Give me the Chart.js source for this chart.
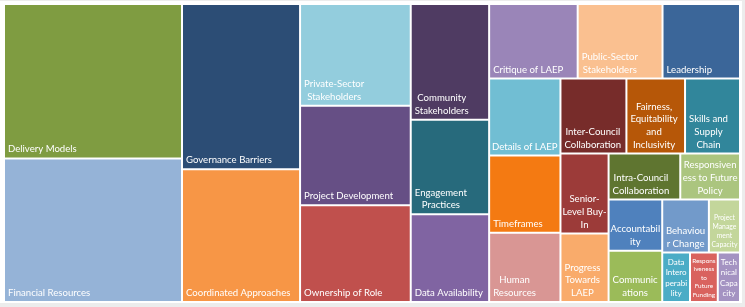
<!DOCTYPE html>
<html>
<head>
<meta charset="utf-8">
<script src="https://cdn.jsdelivr.net/npm/chart.js@4.4.1/dist/chart.umd.min.js"></script>
<style>
html,body{margin:0;padding:0;background:#ffffff;}
canvas{display:block;}
</style>
</head>
<body>
<canvas id="c" width="745" height="307"></canvas>
<script>
// ---- data ----
const CATEGORIES = [
  "Delivery Models","Financial Resources","Governance Barriers","Coordinated Approaches",
  "Private-Sector Stakeholders","Project Development","Ownership of Role","Community Stakeholders",
  "Engagement Practices","Data Availability","Critique of LAEP","Public-Sector Stakeholders",
  "Leadership","Details of LAEP","Timeframes","Human Resources","Inter-Council Collaboration",
  "Fairness, Equitability and Inclusivity","Skills and Supply Chain","Senior-Level Buy-In",
  "Progress Towards LAEP","Intra-Council Collaboration","Responsiveness to Future Policy",
  "Accountability","Communications","Behaviour Change","Project Management Capacity",
  "Data Interoperability","Responsiveness to Future Funding","Technical Capacity"
];
const VALUES = [100,93,71,57,41,40,39,33,27,25,24,23,21,20,20,18,18,16,15,14,12,12,10,10,10,9,6,5,5,4];
const COLORS = [
  "#7f9c41","#95b3d7","#2c4d75","#f79646","#93cddd","#664f85","#c0504d","#4f3b62",
  "#276a7c","#8064a2","#9a85b8","#fac090","#3b6699","#71bed3","#f47a12","#d99694",
  "#772c2a","#b65708","#31869b","#9c3b39","#f9ab6b","#5f7530","#abc57f","#4f81bd",
  "#9bbb59","#729aca","#c3d69b","#4bacc6","#d9625e","#a493c2"
];

// ---- squarified layout (strip along the shorter side) ----
function lastAspect(row, side) {
  const s = row.reduce((a, b) => a + b, 0);
  const t = s / side;
  const len = row[row.length - 1] / t;
  return Math.max(t / len, len / t);
}
function squarify(values, W, H) {
  const total = values.reduce((a, b) => a + b, 0);
  const areas = values.map(v => v * W * H / total);
  let x = 0, y = 0, w = W, h = H, i = 0;
  const rects = [];
  while (i < areas.length) {
    const vertical = w >= h;
    const side = vertical ? h : w;
    let row = [areas[i]], j = i + 1;
    let prev = lastAspect(row, side);
    while (j < areas.length) {
      const cand = row.concat(areas[j]);
      const a = lastAspect(cand, side);
      if (a > prev) break;
      row = cand; prev = a; j++;
    }
    const thick = row.reduce((a, b) => a + b, 0) / side;
    let off = 0;
    row.forEach(a => {
      const len = a / thick;
      if (vertical) rects.push({x0: x, y0: y + off, x1: x + thick, y1: y + off + len});
      else rects.push({x0: x + off, y0: y, x1: x + off + len, y1: y + thick});
      off += len;
    });
    if (vertical) { x += thick; w -= thick; } else { y += thick; h -= thick; }
    i = j;
  }
  return rects;
}

// ---- label wrapping ----
function tokenize(text) {
  const out = [];
  text.split(' ').forEach((word, wi) => {
    const parts = word.split(/(?<=-)/);
    parts.forEach((p, pi) => out.push({t: p, sep: (pi === 0 && wi > 0) ? ' ' : ''}));
  });
  return out;
}
function wrap(ctx, text, maxW) {
  const toks = tokenize(text);
  const lines = [];
  let cur = '';
  for (const tk of toks) {
    const cand = cur ? cur + tk.sep + tk.t : tk.t;
    if (ctx.measureText(cand).width <= maxW) { cur = cand; continue; }
    if (cur) { lines.push(cur); cur = ''; }
    let rest = tk.t;
    while (rest.length > 1 && ctx.measureText(rest).width > maxW) {
      let n = rest.length - 1;
      while (n > 1 && ctx.measureText(rest.slice(0, n)).width > maxW) n--;
      lines.push(rest.slice(0, n));
      rest = rest.slice(n);
    }
    cur = rest;
  }
  if (cur) lines.push(cur);
  return lines;
}

// ---- custom treemap controller using Chart.js bar elements ----
class TreemapController extends Chart.DatasetController {
  static id = 'treemap';
  static defaults = { datasetElementType: false, dataElementType: 'bar' };
  static overrides = {
    scales: {
      x: {type: 'linear', display: false},
      y: {type: 'linear', display: false}
    }
  };
  parse(start, count) {
    const meta = this._cachedMeta;
    const data = this.getDataset().data;
    for (let i = start; i < start + count; i++) {
      meta._parsed[i] = {x: 0.5, y: 0.5, v: +data[i]};
    }
  }
  getMinMax() { return {min: 0, max: 1}; }
  update(mode) {
    const meta = this._cachedMeta;
    this.updateElements(meta.data, 0, meta.data.length, mode);
  }
  updateElements(elems, start, count, mode) {
    const area = this.chart.chartArea;
    if (!area) return;
    const meta = this._cachedMeta;
    const xs = meta.xScale, ys = meta.yScale;
    const W = area.right - area.left, H = area.bottom - area.top;
    if (W <= 0 || H <= 0) return;
    const vals = meta._parsed.map(p => p.v);
    const rects = squarify(vals, W, H);
    for (let i = start; i < start + count; i++) {
      const r = rects[i];
      const l = xs.getPixelForValue(r.x0 / W), rr = xs.getPixelForValue(r.x1 / W);
      const t = ys.getPixelForValue(r.y0 / H), b = ys.getPixelForValue(r.y1 / H);
      Object.assign(elems[i], {
        x: (l + rr) / 2, y: t, base: b, width: rr - l, height: b - t,
        horizontal: false, borderSkipped: {}, enableBorderRadius: false, inflateAmount: 0,
        options: this.resolveDataElementOptions(i, mode)
      });
    }
  }
  draw() {
    super.draw();
    const ctx = this.chart.ctx;
    const meta = this._cachedMeta;
    const labels = this.chart.data.labels;
    ctx.save();
    ctx.fillStyle = '#ffffff';
    ctx.textBaseline = 'alphabetic';
    meta.data.forEach((el, i) => {
      const left = el.x - el.width / 2 + 1, right = el.x + el.width / 2 - 1;
      const top = el.y + 1, bottom = el.base - 1;
      const cw = right - left;
      const availW = cw - 2, availH = bottom - top - 4;
      let fs = 9.6, lines = [];
      for (fs = 9.6; fs >= 5; fs -= 0.4) {
        ctx.font = fs + 'px Lato';
        lines = wrap(ctx, labels[i], availW);
        if (lines.length * fs * 1.32 <= availH) break;
      }
      const lh = fs * 1.32;
      const widths = lines.map(s => ctx.measureText(s).width);
      const bw = Math.max(...widths);
      let bx = left + 3;
      if (bw > cw - 6) bx = left + (cw - bw) / 2;
      const baseY = bottom - 3 - fs * 0.2;
      ctx.textAlign = 'center';
      lines.forEach((s, k) => {
        const yy = baseY - (lines.length - 1 - k) * lh;
        ctx.fillText(s, bx + bw / 2, yy);
      });
    });
    ctx.restore();
  }
}
Chart.register(TreemapController);

const framePlugin = {
  id: 'frame',
  beforeDraw(chart) {
    const ctx = chart.ctx;
    ctx.save();
    ctx.fillStyle = '#ececec';
    ctx.fillRect(0, 0, chart.width, chart.height);
    ctx.fillStyle = '#ffffff';
    ctx.fillRect(0, 1, 742, 302);
    ctx.restore();
  }
};

new Chart(document.getElementById('c'), {
  type: 'treemap',
  data: {
    labels: CATEGORIES,
    datasets: [{
      label: 'Themes',
      data: VALUES,
      backgroundColor: (c) => COLORS[c.dataIndex],
      borderColor: '#ffffff',
      borderWidth: 1,
      borderSkipped: false
    }]
  },
  options: {
    responsive: false,
    animation: false,
    devicePixelRatio: 1,
    layout: {padding: {left: 4, top: 4, right: 5, bottom: 5}},
    scales: {
      x: {type: 'linear', min: 0, max: 1, display: false},
      y: {type: 'linear', min: 0, max: 1, reverse: true, display: false}
    },
    plugins: {legend: {display: false}, tooltip: {enabled: true}}
  },
  plugins: [framePlugin]
});
</script>
</body>
</html>
